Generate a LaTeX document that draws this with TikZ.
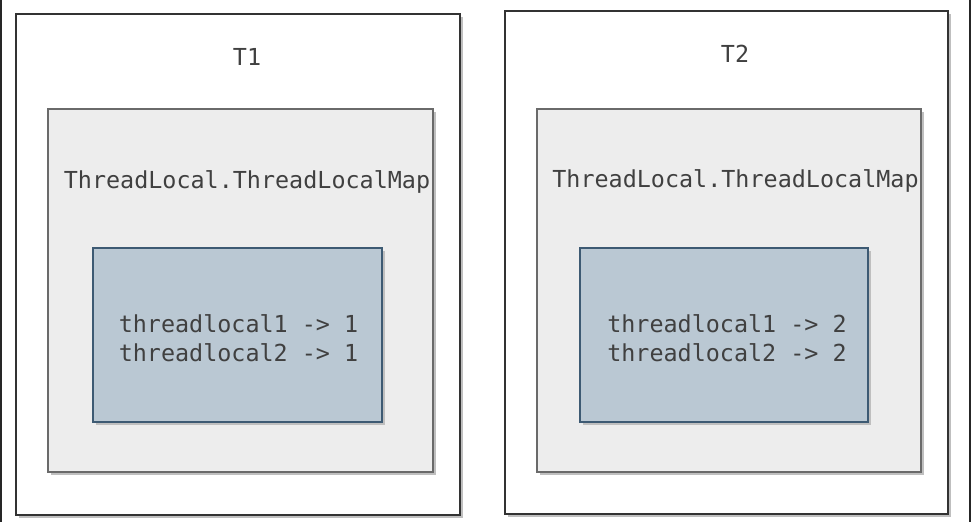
\documentclass[tikz,border=0pt]{standalone}
\usepackage{fontspec}
\setmonofont{DejaVu Sans Mono}
\usetikzlibrary{shadows}
\definecolor{textgray}{HTML}{404040}
\definecolor{mapfill}{HTML}{EDEDED}
\definecolor{mapline}{HTML}{6A6A6A}
\definecolor{entryfill}{HTML}{BAC8D3}
\definecolor{entryline}{HTML}{3D5A73}
\begin{document}
\begin{tikzpicture}[
    x=1pt, y=-1pt,
    box/.style={rectangle, inner sep=0pt, drop shadow={shadow xshift=3pt, shadow yshift=-3pt, fill=black!25, opacity=1}},
    thread/.style={box, draw=black!80, line width=1.5pt, fill=white},
    map/.style={box, draw=mapline, line width=1.5pt, fill=mapfill},
    entry/.style={box, draw=entryline, line width=1.5pt, fill=entryfill},
    label/.style={font=\ttfamily\fontsize{23.4}{29}\selectfont, text=textgray, align=center}
]
    \useasboundingbox (0,0) rectangle (971,522);
    \draw[line width=2pt, black!85] (1,0) -- (1,522);
    \draw[line width=2pt, black!85] (970,0) -- (970,522);

    % Thread boxes
    \node[thread, minimum width=444pt, minimum height=501pt] (t1) at (238,264.5) {};
    \node[thread, minimum width=443pt, minimum height=503pt] (t2) at (726.5,262.5) {};

    % ThreadLocalMap boxes
    \node[map, minimum width=385pt, minimum height=363pt] (m1) at (240.5,290.5) {};
    \node[map, minimum width=384pt, minimum height=363pt] (m2) at (729,290.5) {};

    % Entry boxes
    \node[entry, minimum width=289pt, minimum height=174pt] (e1) at (237.5,335) {};
    \node[entry, minimum width=288pt, minimum height=174pt] (e2) at (724,335) {};

    % Labels
    \node[label] (t1name) at (247,57) {T1};
    \node[label] (t2name) at (735,54) {T2};
    \node[label] (m1name) at (247,182) {ThreadLocal.ThreadLocalMap};
    \node[label] (m2name) at (735.5,181) {ThreadLocal.ThreadLocalMap};
    \node[label] (e1text) at (238.5,338) {threadlocal1 -> 1\\threadlocal2 -> 1};
    \node[label] (e2text) at (727,338) {threadlocal1 -> 2\\threadlocal2 -> 2};
\end{tikzpicture}
\end{document}
